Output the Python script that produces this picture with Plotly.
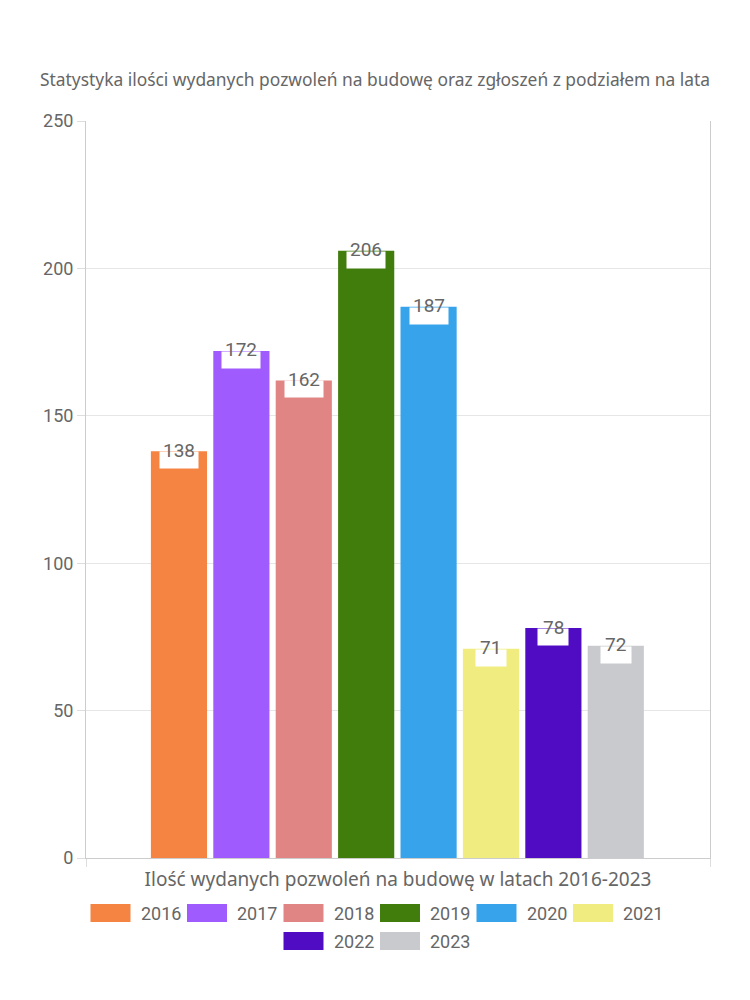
import plotly.graph_objects as go

years = ["2016", "2017", "2018", "2019", "2020", "2021", "2022", "2023"]
values = [138, 172, 162, 206, 187, 71, 78, 72]
colors = ["#F58442", "#A05BFE", "#E18484", "#407D0D", "#37A3EA", "#F1EC80", "#500CC2", "#C9CACE"]
y_ticks = [0, 50, 100, 150, 200, 250]
title_text = "Statystyka ilości wydanych pozwoleń na budowę oraz zgłoszeń z podziałem na lata"
x_title = "Ilość wydanych pozwoleń na budowę w latach 2016-2023"

W, H = 750, 1000
ML, MR, MT, MB = 86, 40, 121, 142
PW, PH = W - ML - MR, H - MT - MB
XMIN, XMAX = -1.49, 8.51
TXT = "#666666"
NUM_FONT = "Roboto, Arial, sans-serif"
LBL_FONT = "Noto Sans, Lato, sans-serif"

fig = go.Figure()
for i, (yr, v, c) in enumerate(zip(years, values, colors)):
    fig.add_trace(go.Bar(x=[i], y=[v], width=0.9, marker=dict(color=c, line=dict(width=0)),
                         name=yr, showlegend=False, hoverinfo="y"))
    box_w = 38 if v >= 100 else 30
    fig.add_annotation(x=i, y=v, text=" ", showarrow=False, xref="x", yref="y",
                       yanchor="top", yshift=0, bgcolor="white", borderpad=0,
                       width=box_w, height=16, font=dict(size=10))
    fig.add_annotation(x=i, y=v, text=str(v), showarrow=False, xref="x", yref="y",
                       yanchor="middle", yshift=1,
                       font=dict(family=NUM_FONT, size=19, color=TXT))

# custom legend (wide swatches like the original)
def px2paper_x(px):
    return (px - ML) / PW

def px2paper_y(py):
    return (H - MB - py) / PH

rows = [years[:6], years[6:]]
item_w = 96.5
sw_w, sw_h = 40, 18
row_y = [913, 941]
idx = 0
for r, row in enumerate(rows):
    total = len(row) * item_w - 10
    start = W / 2 - total / 2
    for j, yr in enumerate(row):
        x0 = start + j * item_w
        yc = row_y[r]
        fig.add_shape(type="rect", xref="paper", yref="paper",
                      x0=px2paper_x(x0), x1=px2paper_x(x0 + sw_w),
                      y0=px2paper_y(yc + sw_h / 2), y1=px2paper_y(yc - sw_h / 2),
                      fillcolor=colors[idx], line=dict(width=0), layer="above")
        fig.add_annotation(xref="paper", yref="paper", x=px2paper_x(x0 + sw_w + 8),
                           y=px2paper_y(yc), xanchor="left", yanchor="middle",
                           text=yr, showarrow=False,
                           font=dict(family=NUM_FONT, size=18, color=TXT))
        idx += 1

fig.update_layout(
    width=W, height=H,
    margin=dict(l=ML, r=MR, t=MT, b=MB),
    paper_bgcolor="white", plot_bgcolor="white",
    title=dict(text=title_text, x=0.5, xanchor="center", y=1 - 80 / H, yanchor="middle",
               font=dict(family=LBL_FONT, size=17.4, color=TXT)),
    showlegend=False,
    xaxis=dict(range=[XMIN, XMAX], tickvals=[XMIN, XMAX], showticklabels=False,
               ticks="outside", ticklen=8, tickcolor="#dddddd",
               showgrid=False, showline=True, linecolor="#cccccc", linewidth=1,
               zeroline=False,
               title=dict(text=x_title, standoff=6,
                          font=dict(family=LBL_FONT, size=19, color=TXT))),
    yaxis=dict(range=[0, 250], tickvals=y_ticks, ticks="outside", ticklen=8,
               tickcolor="#dddddd", showgrid=True, gridcolor="#e6e6e6",
               showline=True, linecolor="#cccccc", linewidth=1, mirror=True,
               zeroline=False,
               tickfont=dict(family=NUM_FONT, size=18, color=TXT)),
)

fig.write_html("out.html")
